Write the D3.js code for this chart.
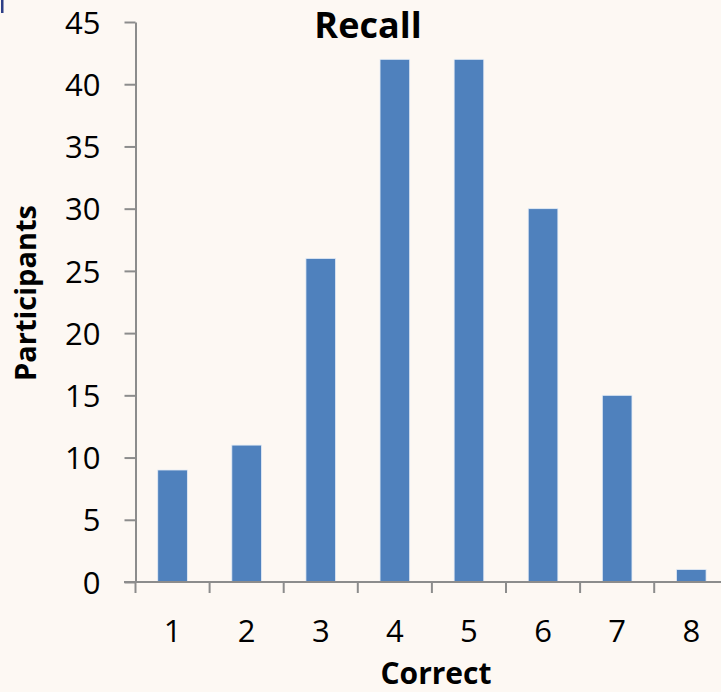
<!DOCTYPE html>
<html><head><meta charset="utf-8">
<script src="https://cdnjs.cloudflare.com/ajax/libs/d3/7.8.5/d3.min.js"></script>
<style>
html,body{margin:0;padding:0;background:#FDF8F3;}
svg{display:block;}
</style></head>
<body>
<script>
const categories = ["1","2","3","4","5","6","7","8"];
const values = [9, 11, 26, 42, 42, 30, 15, 1];
const yTicks = [0,5,10,15,20,25,30,35,40,45];
const title = "Recall";
const xTitle = "Correct";
const yTitle = "Participants";

(function(){
const W = 721, H = 692;
const mLeft = 135.5, mBottom = 582, mTop = 22;
const bandW = 74.1;
const font = "'Open Sans', 'Liberation Sans', sans-serif";
const axisColor = "#8c8c8c";

const svg = d3.select("body").append("svg").attr("width", W).attr("height", H)
  .style("background", "#FDF8F3");

const x = d3.scaleBand().domain(categories).range([mLeft, mLeft + bandW * categories.length]).paddingInner(0.6).paddingOuter(0.3);
const y = d3.scaleLinear().domain([0, 45]).range([mBottom, mTop]);

// small mark at top-left
svg.append("rect").attr("x", 1).attr("y", 0).attr("width", 2.5).attr("height", 13).attr("fill", "#2E3F86");

// bars
svg.selectAll("rect.bar").data(values).enter().append("rect")
  .attr("class", "bar")
  .attr("x", (d, i) => x(categories[i]))
  .attr("width", x.bandwidth())
  .attr("y", d => y(d))
  .attr("height", d => y(0) - y(d))
  .attr("fill", "#4F81BD")
  .attr("stroke", "#E4ECF6")
  .attr("stroke-width", 0.8);

// y axis
const yAxis = d3.axisLeft(y).tickValues(yTicks).tickSize(11).tickPadding(24).tickSizeOuter(0);
const gy = svg.append("g").attr("transform", `translate(${mLeft},0)`).call(yAxis);
gy.select(".domain").attr("stroke", axisColor).attr("stroke-width", 2);
gy.selectAll(".tick line").attr("stroke", axisColor).attr("stroke-width", 2);
gy.selectAll(".tick text").attr("font-family", font).attr("font-size", 31).attr("fill", "#000").attr("dy", "0.36em");

// x axis
const xPos = d3.scaleLinear().domain([0, categories.length]).range([mLeft, mLeft + bandW * categories.length]);
const gx = svg.append("g").attr("transform", `translate(0,${mBottom})`);
gx.append("line").attr("x1", mLeft - 11.5).attr("x2", mLeft + bandW * categories.length)
  .attr("stroke", axisColor).attr("stroke-width", 2);
gx.selectAll("line.tk").data(d3.range(categories.length + 1)).enter().append("line")
  .attr("class", "tk")
  .attr("x1", d => xPos(d)).attr("x2", d => xPos(d))
  .attr("y1", 0).attr("y2", 11)
  .attr("stroke", axisColor).attr("stroke-width", 2);
gx.selectAll("text").data(categories).enter().append("text")
  .attr("x", d => x(d) + x.bandwidth() / 2)
  .attr("y", 60)
  .attr("text-anchor", "middle")
  .attr("font-family", font).attr("font-size", 31).attr("fill", "#000")
  .text(d => d);

// titles
svg.append("text").attr("x", 368).attr("y", 38).attr("text-anchor", "middle")
  .attr("font-family", font).attr("font-weight", "bold").attr("font-size", 36).attr("fill", "#000")
  .text(title);
svg.append("text").attr("x", 436).attr("y", 684).attr("text-anchor", "middle")
  .attr("font-family", font).attr("font-weight", "bold").attr("font-size", 30).attr("fill", "#000")
  .text(xTitle);
svg.append("text").attr("transform", "translate(35.5,293) rotate(-90)").attr("text-anchor", "middle")
  .attr("font-family", font).attr("font-weight", "bold").attr("font-size", 29).attr("fill", "#000")
  .text(yTitle);
})();
</script>
</body></html>
